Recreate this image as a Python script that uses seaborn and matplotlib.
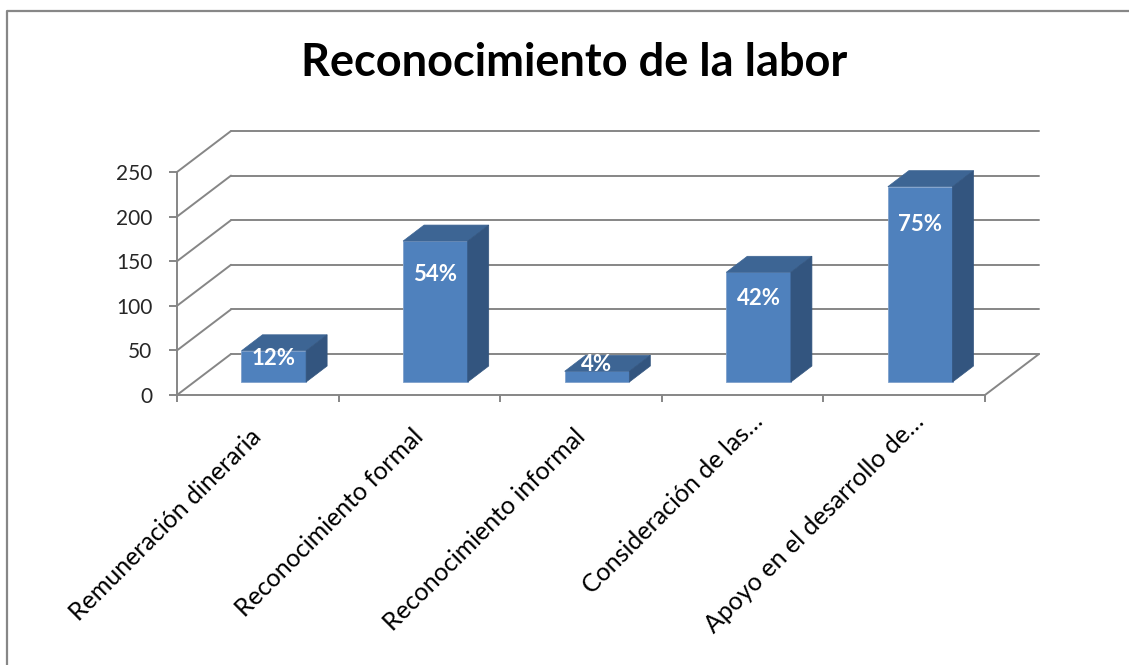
import matplotlib
matplotlib.use("Agg")
import matplotlib.pyplot as plt
from matplotlib.lines import Line2D
from matplotlib.patches import Polygon
import seaborn as sns
import pandas as pd

# ---- data ----
categories = ["Remuneración dineraria", "Reconocimiento formal", "Reconocimiento informal",
              "Consideración de las…", "Apoyo en el desarrollo de…"]
values = [35, 158, 12, 123, 219]
percent_labels = ["12%", "54%", "4%", "42%", "75%"]
y_ticks = [0, 50, 100, 150, 200, 250]
title = "Reconocimiento de la labor"

sns.set_style("white")
plt.rcParams["font.family"] = ["Lato", "DejaVu Sans"]

W, H, DPI = 1129, 665, 100
fig = plt.figure(figsize=(W / DPI, H / DPI), dpi=DPI)
fig.patch.set_facecolor("white")

# front plane of the 3D box (pixel geometry)
L, R, Y0, Y1 = 177, 985, 395, 172
ax = fig.add_axes([L / W, (H - Y0) / H, (R - L) / W, (Y0 - Y1) / H])
ax.set_xlim(-0.5, len(categories) - 0.5)
ax.set_ylim(0, 250)
ax.patch.set_visible(False)

sx = (R - L) / len(categories)      # px per category
sy = (Y0 - Y1) / 250.0              # px per unit

def d(px, py):
    return px / sx, py / sy

FRONT = d(16, 13)   # bar front plane offset
DEPTH = d(21, 16)   # bar depth
BACK = d(54, 41)    # back wall offset

grid_c = "#868686"
face_c = "#4F81BD"
top_c = "#3D6594"
side_c = "#33557F"

df = pd.DataFrame({"cat": categories, "val": values})
sns.barplot(data=df, x="cat", y="val", color=face_c, saturation=1, width=0.4, ax=ax, zorder=3)

# back wall gridlines and left-wall diagonals
n = len(categories)
for v in y_ticks:
    ax.plot([-0.5 + BACK[0], n - 0.5 + BACK[0]], [v + BACK[1], v + BACK[1]],
            color=grid_c, lw=1.4, clip_on=False, zorder=0.5)
    ax.plot([-0.5, -0.5 + BACK[0]], [v, v + BACK[1]], color=grid_c, lw=1.4,
            clip_on=False, zorder=0.5)
# floor right diagonal
ax.plot([n - 0.5, n - 0.5 + BACK[0]], [0, BACK[1]], color=grid_c, lw=1.4,
        clip_on=False, zorder=0.5)

# turn bars into 3D boxes
for p, lab in zip(ax.patches, percent_labels):
    x0 = p.get_x() + FRONT[0]
    w = p.get_width()
    h = p.get_height()
    y0 = FRONT[1]
    p.set_x(x0)
    p.set_y(y0)
    p.set_clip_on(False)
    p.set_edgecolor("#7FA1CC")
    p.set_linewidth(0.6)
    x1 = x0 + w
    top = Polygon([(x0, y0 + h), (x1, y0 + h), (x1 + DEPTH[0], y0 + h + DEPTH[1]),
                   (x0 + DEPTH[0], y0 + h + DEPTH[1])], closed=True,
                  facecolor=top_c, edgecolor=top_c, lw=0.5, clip_on=False, zorder=3)
    side = Polygon([(x1, y0), (x1, y0 + h), (x1 + DEPTH[0], y0 + h + DEPTH[1]),
                    (x1 + DEPTH[0], y0 + DEPTH[1])], closed=True,
                   facecolor=side_c, edgecolor=side_c, lw=0.5, clip_on=False, zorder=3)
    ax.add_patch(top)
    ax.add_patch(side)
    ly = max(h - min(42, 0.24 * h), 20)
    ax.text(x0 + w / 2, y0 + ly, lab, color="white", fontsize=16, fontweight="bold",
            ha="center", va="center", zorder=5, clip_on=False)

# spines / ticks
for s in ["top", "right"]:
    ax.spines[s].set_visible(False)
for s in ["left", "bottom"]:
    ax.spines[s].set_color(grid_c)
    ax.spines[s].set_linewidth(1.4)
ax.set_yticks(y_ticks)
ax.set_yticklabels([str(t) for t in y_ticks], fontsize=15)
ax.tick_params(axis="y", length=5.8, width=1.4, color=grid_c, pad=12, left=True)
ax.set_xticks([i - 0.5 for i in range(n + 1)])
ax.set_xticklabels([])
ax.tick_params(axis="x", length=5, width=1.4, color=grid_c, bottom=True)
ax.set_xlabel("")
ax.set_ylabel("")

for i, c in enumerate(categories):
    # truncated labels (ending with an ellipsis) sit a little further along the diagonal
    off = (8, -14) if c.endswith("…") else (-8, -30)
    ax.annotate(c, xy=(i, 0), xytext=off, textcoords="offset pixels",
                rotation=45, ha="right", va="top", rotation_mode="anchor",
                fontsize=18, color="black", annotation_clip=False)

fig.text((303 + 845) / 2 / W, 1 - 76 / H, title, ha="center", va="baseline",
         fontsize=32.5, fontweight="bold", color="black")

# outer border (left and top)
fig.add_artist(Line2D([7 / W, 7 / W, 1], [0, 1 - 11 / H, 1 - 11 / H],
                      transform=fig.transFigure, color="#878787", lw=1.6))

fig.savefig("out.png", dpi=DPI)
